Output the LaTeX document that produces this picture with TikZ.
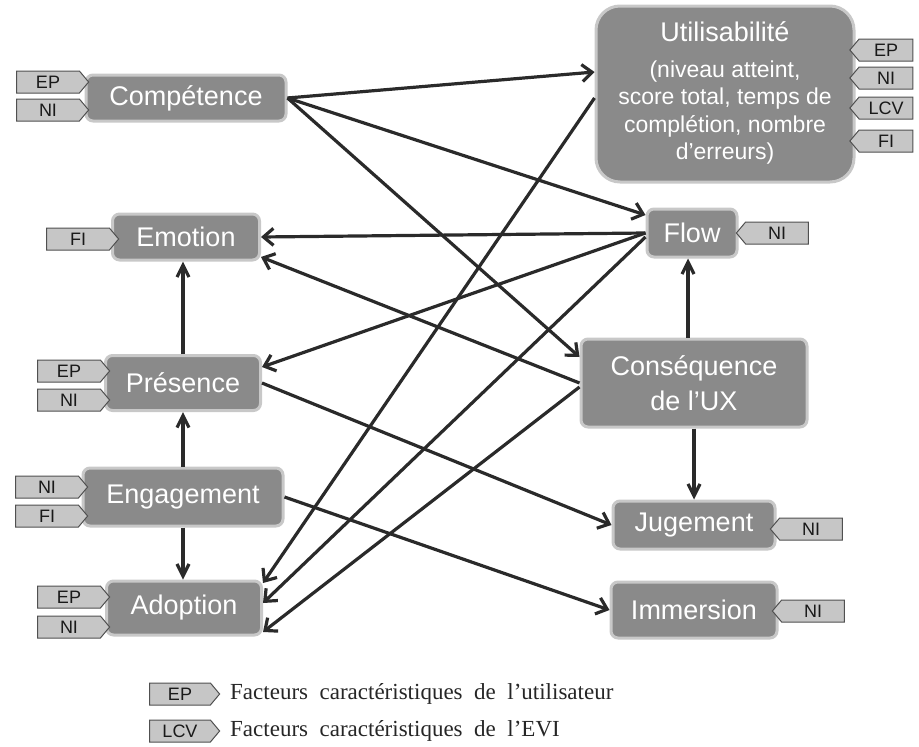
\documentclass[tikz,border=0pt]{standalone}
\usepackage{fontspec}
\setmainfont{Liberation Serif}
\setsansfont{Liberation Sans}
\usetikzlibrary{arrows.meta,shapes.symbols,calc}
\definecolor{boxfill}{HTML}{8A8A8A}
\definecolor{boxedge}{HTML}{C8C8C8}
\definecolor{tagfill}{HTML}{C6C6C6}
\definecolor{tagedge}{HTML}{505050}
\definecolor{arrcol}{HTML}{2A2A2A}
\tikzset{
 box/.style={rectangle, rounded corners=7pt, fill=boxfill, draw=boxedge, line width=3pt, text=white, font=\sffamily\fontsize{27}{35}\selectfont, align=center, inner sep=0pt},
 tagbase/.style={signal, draw=tagedge, fill=tagfill, line width=1pt, font=\sffamily\fontsize{18}{20}\selectfont, text=black!90, minimum height=22pt, minimum width=72pt, inner sep=0pt, signal pointer angle=100},
 tagR/.style={tagbase, signal to=east, signal from=nowhere},
 tagL/.style={tagbase, signal to=west, signal from=nowhere},
 arr/.style={draw=arrcol, line width=3.2pt, -{Straight Barb[length=10pt,width=17pt]}},
 varr/.style={draw=arrcol, line width=3.2pt, -{Straight Barb[length=12pt,width=12pt]}},
 legtext/.style={anchor=west, inner sep=0pt, text=black!85, font={\fontsize{23}{25}\selectfont\spaceskip=11.5pt plus 1pt}},
}
\begin{document}
\begin{tikzpicture}[x=1pt,y=-1pt]
\useasboundingbox (0,0) rectangle (919,747);
% main boxes
\node[box, minimum width=200pt, minimum height=46pt] (comp) at (186,98) {Compétence};
\node[box, rounded corners=24pt, minimum width=258pt, minimum height=176pt, font=\sffamily\fontsize{23}{27.5}\selectfont, text depth=6pt] (util) at (725,94)
 {{\fontsize{27}{27}\selectfont Utilisabilité}\\[8pt](niveau atteint,\\score total, temps de\\complétion, nombre\\d’erreurs)};
\node[box, minimum width=147pt, minimum height=46pt] (emo) at (186,237) {Emotion};
\node[box, minimum width=90pt, minimum height=48pt] (flow) at (692,233) {Flow};
\node[box, minimum width=226pt, minimum height=88pt] (cons) at (694,383) {Conséquence\\de l’UX};
\node[box, minimum width=155pt, minimum height=55pt] (pres) at (183,383) {Présence};
\node[box, minimum width=200pt, minimum height=58pt] (eng) at (183,497) {Engagement};
\node[box, minimum width=162pt, minimum height=48pt] (jug) at (694,525) {Jugement};
\node[box, minimum width=155pt, minimum height=54pt] (adop) at (184,608) {Adoption};
\node[box, minimum width=166pt, minimum height=56pt] (imm) at (694,610) {Immersion};
% tags
\node[tagR] (tcomp1) at (48,82) {EP};
\node[tagR] (tcomp2) at (48,110) {NI};
\node[tagR] (temo) at (78,239) {FI};
\node[tagR] (tpres1) at (69,371) {EP};
\node[tagR] (tpres2) at (69,400) {NI};
\node[tagR] (teng1) at (47,487) {NI};
\node[tagR] (teng2) at (47,516) {FI};
\node[tagR] (tadop1) at (69,597) {EP};
\node[tagR] (tadop2) at (69,627) {NI};
\node[tagL, minimum width=63pt] (tutil1) at (886,50) {EP};
\node[tagL, minimum width=63pt] (tutil2) at (886,78) {NI};
\node[tagL, minimum width=63pt] (tutil3) at (886,108) {LCV};
\node[tagL, minimum width=63pt] (tutil4) at (886,141) {FI};
\node[tagL] (tflow) at (777,233) {NI};
\node[tagL] (tjug) at (811,529) {NI};
\node[tagL] (timm) at (813,611) {NI};
% connectors
\draw[arr] (comp.east) -- ([yshift=22pt]util.west);
\draw[arr] (comp.east) -- ([yshift=18pt]flow.west);
\draw[arr] (comp.east) -- ([yshift=26pt]cons.west);
\draw[arr] (flow.west) -- (emo.east);
\draw[arr] (cons.west) -- ([yshift=-20pt]emo.east);
\draw[arr] (flow.west) -- ([yshift=16pt]pres.east);
\draw[arr] ([yshift=-4pt]util.west) -- ([yshift=25pt]adop.east);
\draw[arr] ([yshift=-4pt]flow.west) -- ([yshift=5pt]adop.east);
\draw[arr] ([yshift=-4pt]cons.west) -- ([yshift=-24pt]adop.east);
\draw[arr] (pres.east) -- (jug.west);
\draw[arr] (eng.east) -- (imm.west);
\draw[varr] (pres.north) -- (pres.north |- emo.south);
\draw[varr] (eng.north) -- (eng.north |- pres.south);
\draw[varr] (eng.south) -- (eng.south |- adop.north);
\draw[varr] ([xshift=-6pt]cons.north) -- ([xshift=-6pt]cons.north |- flow.south);
\draw[varr] (cons.south) -- (cons.south |- jug.north);
% legend
\node[tagR, minimum width=70pt] (lgt1) at (180,694) {EP};
\node[tagR, minimum width=70pt] (lgt2) at (180,731) {LCV};
\node[legtext] (lg1) at (230,694) {Facteurs caractéristiques de l’utilisateur};
\node[legtext] (lg2) at (230,731) {Facteurs caractéristiques de l’EVI};
\end{tikzpicture}
\end{document}
